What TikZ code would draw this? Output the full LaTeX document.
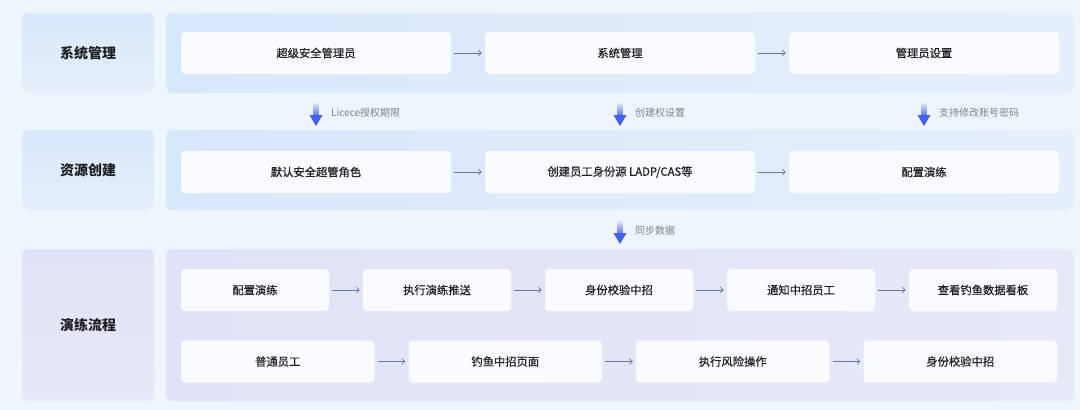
\documentclass[tikz,border=0pt]{standalone}
\usepackage{fontspec}
\setmainfont{Noto Sans CJK SC}
\newfontfamily\boxfont{Noto Sans CJK SC}[FakeBold=0.5]
\usepackage{tikz}
\usetikzlibrary{arrows.meta,positioning}
\definecolor{pageBlue}{HTML}{EFF5FC}
\definecolor{panelBlueTop}{HTML}{D8E8FB}
\definecolor{panelBlueLow}{HTML}{E5EFFB}
\definecolor{panelLilacTop}{HTML}{E0E3F7}
\definecolor{panelLilacLow}{HTML}{E7E9F8}
\definecolor{boxWhite}{HTML}{F9FBFE}
\definecolor{flowGray}{HTML}{6E75A3}
\definecolor{syncBlue}{HTML}{3D63EE}
\definecolor{noteGray}{HTML}{7E838F}
\definecolor{textDark}{HTML}{1E1F24}

\tikzset{
  lpanel/.style={rounded corners=7pt, minimum width=132pt, inner sep=0pt,
    font=\bfseries\fontsize{14}{16}\selectfont, text=textDark},
  rpanel/.style={rounded corners=7pt, minimum width=908pt, inner sep=0pt},
  flowbox/.style={fill=boxWhite, rounded corners=4pt, minimum height=42pt, inner sep=0pt,
    font=\boxfont\fontsize{11.3}{13}\selectfont, text=textDark},
  flow/.style={draw=flowGray, line width=0.7pt, -{Straight Barb[length=3pt,width=5.5pt]},
    shorten <=3pt, shorten >=3pt},
  note/.style={right, font=\fontsize{10}{12}\selectfont, text=noteGray, inner sep=0pt}
}

% blue sync arrow hanging from a named coordinate
\newcommand{\syncarrow}[1]{%
  \begin{scope}[shift={(#1)}]
    \shade[top color=syncBlue!10, bottom color=syncBlue!90] (-2.5,0) rectangle (2.5,14);
    \fill[syncBlue] (-6.5,13) -- (6.5,13) -- (0,24) -- cycle;
  \end{scope}}

\begin{document}
\begin{tikzpicture}[x=1pt, y=-1pt]
    \useasboundingbox (0,0) rectangle (1080,410);
    \fill[pageBlue] (0,0) rectangle (1080,410);

    % row panels
    \node[lpanel, minimum height=80pt, top color=panelBlueTop, bottom color=panelBlueLow] (sys) at (88,53) {系统管理};
    \node[lpanel, minimum height=80pt, top color=panelBlueTop, bottom color=panelBlueLow] (res) at (88,170) {资源创建};
    \node[lpanel, minimum height=152pt, top color=panelLilacTop, bottom color=panelLilacLow] (drill) at (88,325) {演练流程};
    \node[rpanel, minimum height=80pt, left color=panelBlueTop, right color=panelBlueLow] (sysrow) at (620,53) {};
    \node[rpanel, minimum height=80pt, left color=panelBlueTop, right color=panelBlueLow] (resrow) at (620,170) {};
    \node[rpanel, minimum height=152pt, left color=panelLilacTop, right color=panelLilacLow] (drillrow) at (620,325) {};

    % system management
    \node[flowbox, minimum width=270pt] (s1) at (316,53) {超级安全管理员};
    \node[flowbox, minimum width=270pt] (s2) at (620,53) {系统管理};
    \node[flowbox, minimum width=270pt] (s3) at (924,53) {管理员设置};

    % resource creation
    \node[flowbox, minimum width=270pt] (r1) at (316,172) {默认安全超管角色};
    \node[flowbox, minimum width=270pt] (r2) at (620,172) {创建员工身份源 LADP/CAS等};
    \node[flowbox, minimum width=270pt] (r3) at (924,172) {配置演练};

    % drill flow
    \foreach \t [count=\i] in {配置演练,执行演练推送,身份校验中招,通知中招员工,查看钓鱼数据看板} {
        \node[flowbox, minimum width=148pt] (p\i) at ({255+182*(\i-1)},290) {\t};
    }
    \foreach \t [count=\i] in {普通员工,钓鱼中招页面,执行风险操作,身份校验中招} {
        \node[flowbox, minimum width=193.5pt] (q\i) at ({277.75+227.5*(\i-1)},361.5) {\t};
    }

    \foreach \a/\b in {s1/s2,s2/s3,r1/r2,r2/r3,p1/p2,p2/p3,p3/p4,p4/p5,q1/q2,q2/q3,q3/q4} {
        \draw[flow] (\a) -- (\b);
    }

    % sync arrows between rows
    \coordinate (d1) at (316,102);
    \coordinate (d2) at (620,102);
    \coordinate (d3) at (924,102);
    \coordinate (d4) at (620,220);
    \syncarrow{d1}
    \syncarrow{d2}
    \syncarrow{d3}
    \syncarrow{d4}
    \node[note] (n1) at ([shift={(15,11)}]d1) {Licece授权期限};
    \node[note] (n2) at ([shift={(15,11)}]d2) {创建权设置};
    \node[note] (n3) at ([shift={(15,11)}]d3) {支持修改账号密码};
    \node[note] (n4) at ([shift={(15,11)}]d4) {同步数据};
\end{tikzpicture}
\end{document}
